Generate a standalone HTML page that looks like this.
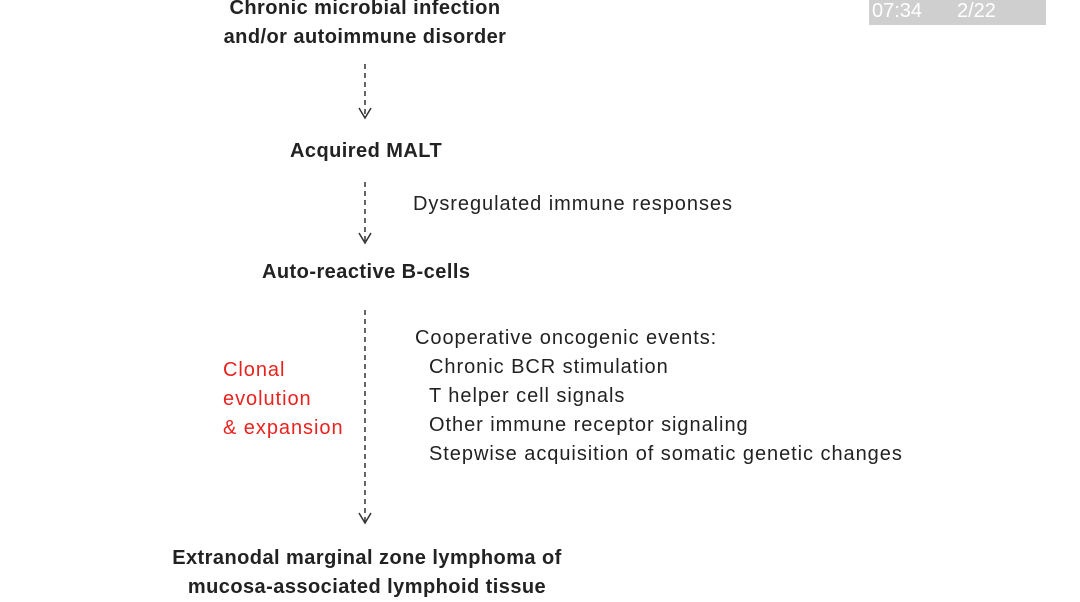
<!DOCTYPE html>
<html><head><style>
body{margin:0;width:1080px;height:596px;background:#fff;position:relative;overflow:hidden;font-family:"Liberation Sans",sans-serif;color:#222}
.t{position:absolute;white-space:nowrap;font-size:20px;line-height:29px;letter-spacing:0.95px}
.b{font-weight:bold;text-align:center;letter-spacing:0.45px}
.r{color:#e8231f}
.i{padding-left:14px}
</style></head><body>
<div style="position:absolute;left:869px;top:0;width:177px;height:25px;background:#cfcfcf"></div>
<div class="t" style="left:872px;top:-3px;color:#fff;font-size:20px;letter-spacing:0">07:34</div>
<div class="t" style="left:957px;top:-3px;color:#fff;font-size:20px;letter-spacing:0">2/22</div>

<div class="t b" style="left:165px;top:-6px;width:400px">Chronic microbial infection<br>and/or autoimmune disorder</div>
<div class="t b" style="left:290px;top:137px">Acquired MALT</div>
<div class="t" style="left:413px;top:190px">Dysregulated immune responses</div>
<div class="t b" style="left:262px;top:258px">Auto-reactive B-cells</div>
<div class="t" style="left:415px;top:324px">Cooperative oncogenic events:<div class="i">Chronic BCR stimulation</div><div class="i">T helper cell signals</div><div class="i">Other immune receptor signaling</div><div class="i">Stepwise acquisition of somatic genetic changes</div></div>
<div class="t r" style="left:223px;top:356px">Clonal<br>evolution<br>&amp; expansion</div>
<div class="t b" style="left:117px;top:544px;width:500px">Extranodal marginal zone lymphoma of<br>mucosa-associated lymphoid tissue</div>

<svg width="1080" height="596" style="position:absolute;left:0;top:0">
<g stroke="#333" stroke-width="1.5" fill="none">
<line x1="365" y1="64" x2="365" y2="117" stroke-dasharray="5,4"/>
<polyline points="359,108 365,118 371,108"/>
<line x1="365" y1="182" x2="365" y2="242" stroke-dasharray="5,4"/>
<polyline points="359,233 365,243 371,233"/>
<line x1="365" y1="310" x2="365" y2="522" stroke-dasharray="5,4"/>
<polyline points="359,513 365,523 371,513"/>
</g></svg>
</body></html>
